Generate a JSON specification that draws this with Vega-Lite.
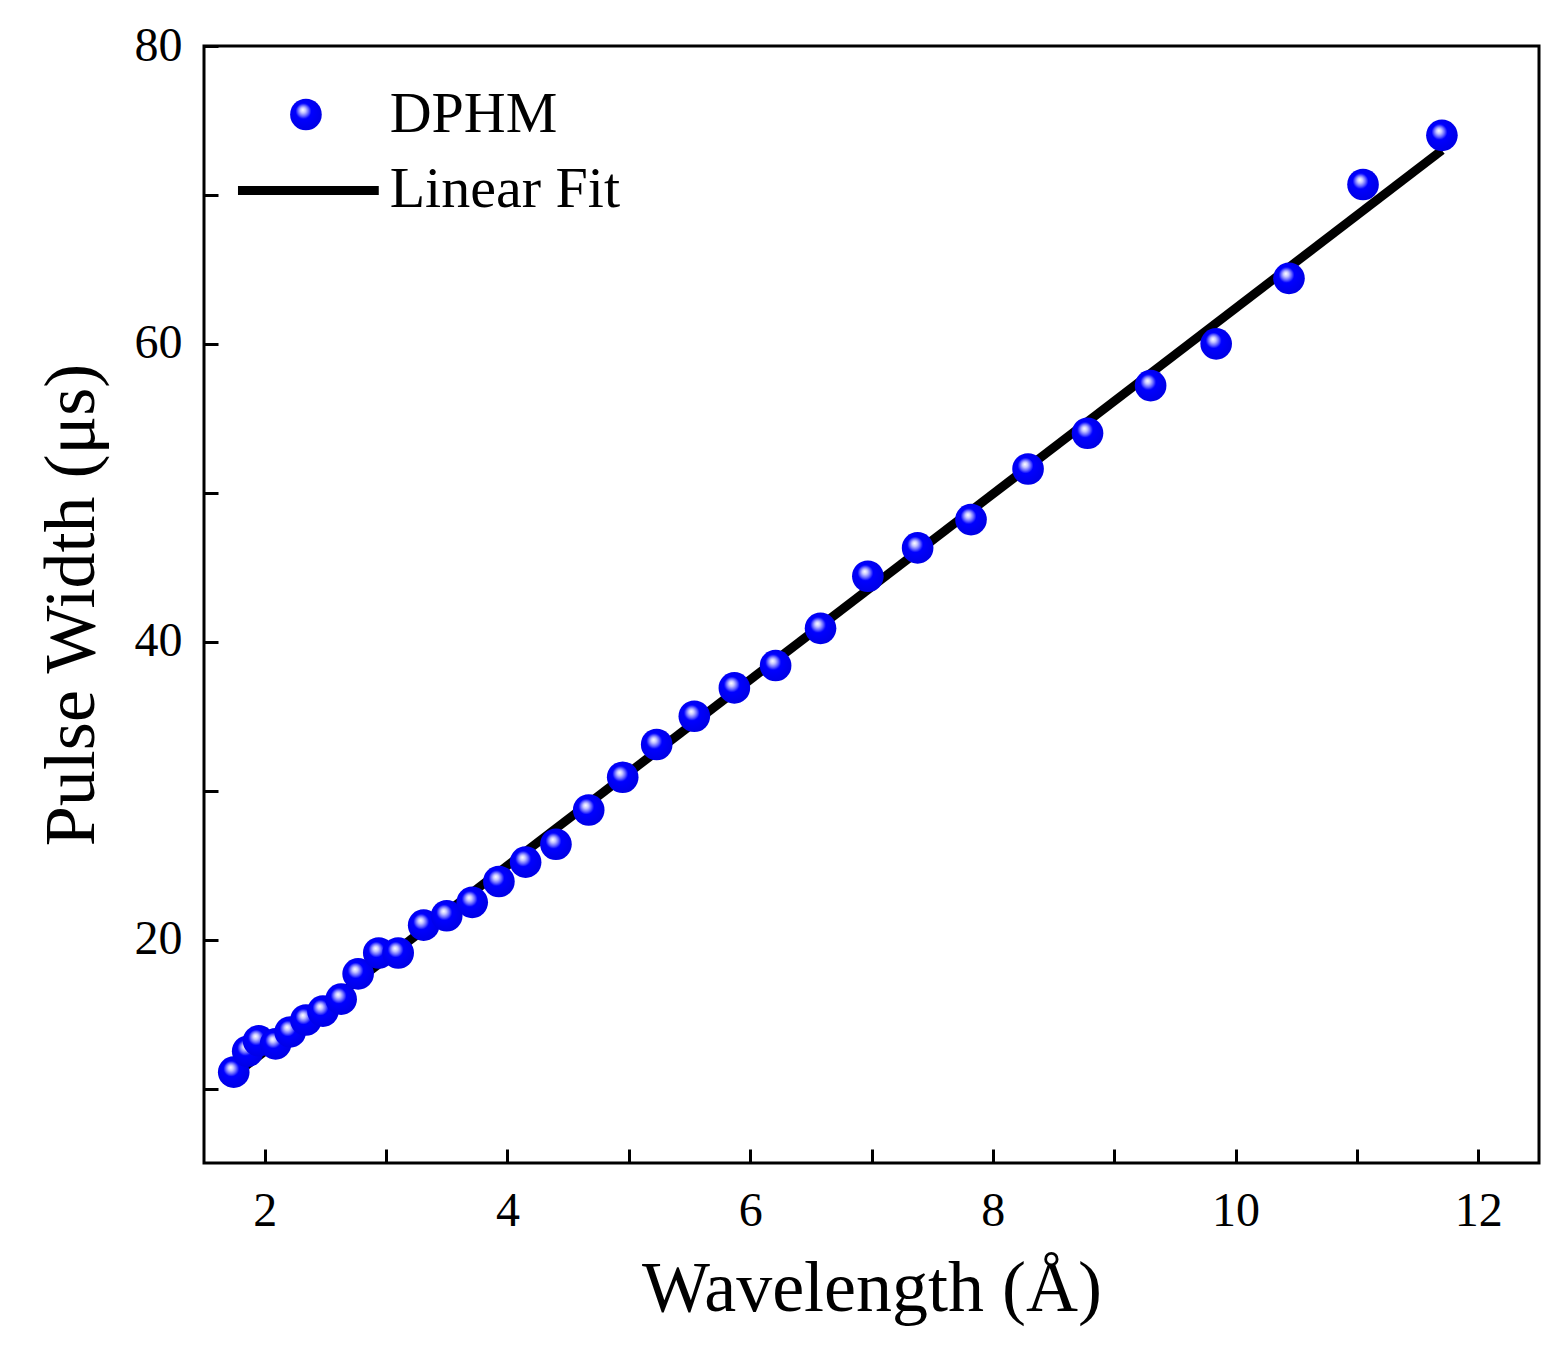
{
  "$schema": "https://vega.github.io/schema/vega-lite/v6.json",
  "autosize": "none",
  "padding": {"left": 204, "top": 46, "right": 21, "bottom": 201},
  "width": 1335,
  "height": 1117,
  "background": "white",
  "datasets": {
    "pts": [
      {"w": 1.745, "p": 11.1}, {"w": 1.86, "p": 12.5}, {"w": 1.95, "p": 13.2},
      {"w": 2.09, "p": 13.0}, {"w": 2.21, "p": 13.8}, {"w": 2.34, "p": 14.6},
      {"w": 2.48, "p": 15.2}, {"w": 2.63, "p": 16.0}, {"w": 2.77, "p": 17.7},
      {"w": 2.94, "p": 19.1}, {"w": 3.10, "p": 19.1}, {"w": 3.31, "p": 20.97},
      {"w": 3.50, "p": 21.6}, {"w": 3.71, "p": 22.5}, {"w": 3.93, "p": 23.9},
      {"w": 4.15, "p": 25.2}, {"w": 4.40, "p": 26.4}, {"w": 4.67, "p": 28.7},
      {"w": 4.95, "p": 30.9}, {"w": 5.23, "p": 33.1}, {"w": 5.54, "p": 35.0},
      {"w": 5.87, "p": 36.9}, {"w": 6.21, "p": 38.4}, {"w": 6.58, "p": 40.9},
      {"w": 6.97, "p": 44.4}, {"w": 7.38, "p": 46.3}, {"w": 7.82, "p": 48.2},
      {"w": 8.29, "p": 51.6}, {"w": 8.78, "p": 54.0}, {"w": 9.30, "p": 57.2},
      {"w": 9.84, "p": 60.0}, {"w": 10.44, "p": 64.4}, {"w": 11.05, "p": 70.7},
      {"w": 11.70, "p": 74.0}
    ],
    "fit": [{"w": 1.745, "p": 10.9}, {"w": 11.7, "p": 73.0}],
    "legline": [{"w": 1.78, "p": 70.3}, {"w": 2.94, "p": 70.3}],
    "legpt": [{"w": 2.34, "p": 75.4}],
    "legtext": [{"w": 3.03, "p": 75.4, "t": "DPHM"}, {"w": 3.03, "p": 70.3, "t": "Linear Fit"}]
  },
  "encoding": {
    "x": {
      "field": "w", "type": "quantitative",
      "scale": {"domain": [1.5, 12.5], "nice": false, "zero": false},
      "axis": {
        "title": "Wavelength (Å)",
        "values": [2, 3, 4, 5, 6, 7, 8, 9, 10, 11, 12],
        "labelExpr": "datum.value % 2 == 0 ? datum.label : ''",
        "offset": -14, "tickSize": 14, "labelPadding": 24
      }
    },
    "y": {
      "field": "p", "type": "quantitative",
      "scale": {"domain": [5, 80], "nice": false, "zero": false},
      "axis": {
        "title": "Pulse Width (μs)",
        "values": [10, 20, 30, 40, 50, 60, 70, 80],
        "labelExpr": "datum.value % 20 == 0 ? datum.label : ''",
        "offset": -14, "tickSize": 14, "labelPadding": 22
      }
    }
  },
  "layer": [
    {
      "data": {"name": "fit"},
      "mark": {"type": "line", "color": "black", "strokeWidth": 9}
    },
    {
      "data": {"name": "pts"},
      "mark": {
        "type": "point", "filled": true, "size": 1000, "opacity": 1,
        "fill": {
          "gradient": "radial",
          "x1": 0.4, "y1": 0.35, "r1": 0,
          "x2": 0.45, "y2": 0.45, "r2": 0.55,
          "stops": [
            {"offset": 0, "color": "#ffffff"},
            {"offset": 0.15, "color": "#c8c8ff"},
            {"offset": 0.3, "color": "#6a6aff"},
            {"offset": 0.45, "color": "#0000ff"},
            {"offset": 1, "color": "#0000e6"}
          ]
        }
      }
    },
    {
      "data": {"name": "legline"},
      "mark": {"type": "line", "color": "black", "strokeWidth": 9}
    },
    {
      "data": {"name": "legpt"},
      "mark": {
        "type": "point", "filled": true, "size": 1000, "opacity": 1,
        "fill": {
          "gradient": "radial",
          "x1": 0.4, "y1": 0.35, "r1": 0,
          "x2": 0.45, "y2": 0.45, "r2": 0.55,
          "stops": [
            {"offset": 0, "color": "#ffffff"},
            {"offset": 0.15, "color": "#c8c8ff"},
            {"offset": 0.3, "color": "#6a6aff"},
            {"offset": 0.45, "color": "#0000ff"},
            {"offset": 1, "color": "#0000e6"}
          ]
        }
      }
    },
    {
      "data": {"name": "legtext"},
      "mark": {"type": "text", "align": "left", "baseline": "middle", "font": "Liberation Serif", "fontSize": 58, "color": "black"},
      "encoding": {"text": {"field": "t"}}
    }
  ],
  "config": {
    "view": {"stroke": "black", "strokeWidth": 3},
    "axis": {
      "grid": false,
      "domain": false,
      "tickColor": "black", "tickWidth": 3,
      "labelFont": "Liberation Serif", "labelFontSize": 48, "labelColor": "black",
      "titleFont": "Liberation Serif", "titleFontSize": 72, "titleFontWeight": "normal", "titleColor": "black"
    },
    "axisX": {"titlePadding": 18},
    "axisY": {"titlePadding": 26, "labelAngle": 0}
  }
}
